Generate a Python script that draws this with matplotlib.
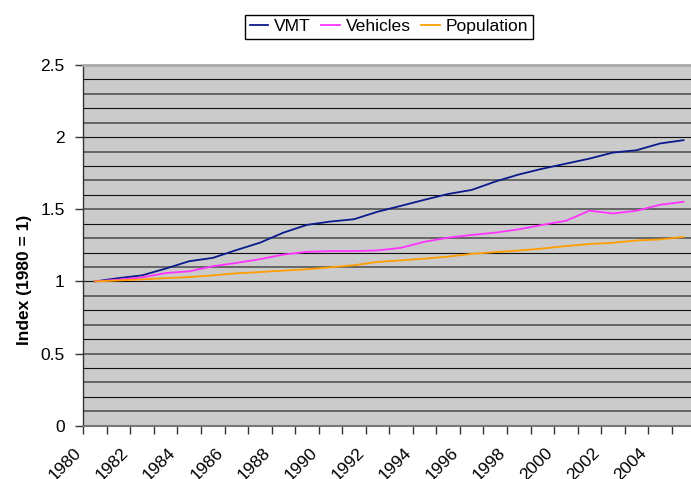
import numpy as np
import matplotlib
matplotlib.use("Agg")
import matplotlib.pyplot as plt
from matplotlib.ticker import FixedLocator

plt.rcParams["font.family"] = ["Liberation Sans", "DejaVu Sans"]

# data
years = list(range(1980, 2006))
vmt = [1.00, 1.023, 1.042, 1.089, 1.14, 1.163, 1.217, 1.268, 1.338, 1.392, 1.415, 1.431,
       1.483, 1.524, 1.566, 1.606, 1.634, 1.692, 1.741, 1.781, 1.816, 1.851, 1.893, 1.909,
       1.956, 1.979]
vehicles = [1.00, 1.012, 1.028, 1.058, 1.07, 1.105, 1.128, 1.154, 1.186, 1.205, 1.21, 1.21,
            1.215, 1.233, 1.275, 1.303, 1.322, 1.338, 1.361, 1.392, 1.42, 1.49, 1.471, 1.49,
            1.531, 1.552]
population = [1.00, 1.007, 1.014, 1.023, 1.03, 1.042, 1.056, 1.065, 1.075, 1.084, 1.098, 1.112,
              1.135, 1.146, 1.158, 1.172, 1.191, 1.203, 1.214, 1.228, 1.245, 1.259, 1.268, 1.284,
              1.291, 1.308]
label_years = list(range(1980, 2005, 2))
y_ticks = [0, 0.5, 1, 1.5, 2, 2.5]
y_tick_labels = ["0", "0.5", "1", "1.5", "2", "2.5"]

fig = plt.figure(figsize=(6.91, 4.79), dpi=100)
# plot area runs past the right edge, like the cropped original
ax = fig.add_axes([83.3 / 691, 1 - 425.7 / 479, 612 / 691, 360.7 / 479])
ax.set_facecolor("#cbcbcb")

# horizontal grid every 0.1, alternating look of the original
for k in range(1, 25):
    v = k / 10
    if k % 2 == 0:
        ax.axhline(v, color="#111111", lw=0.8, zorder=1)
    else:
        ax.axhline(v, color="#666666", lw=1.4, zorder=1)

ax.plot(years, vmt, color="#0a1a8a", lw=1.3, label="VMT", zorder=3)
ax.plot(years, vehicles, color="#ff33ff", lw=1.3, label="Vehicles", zorder=3)
ax.plot(years, population, color="#ff9d00", lw=1.3, label="Population", zorder=3)

ax.set_xlim(1979.5, 2005.5)
ax.set_ylim(0, 2.5)

ax.spines["top"].set_color("#aaaaaa")
ax.spines["top"].set_linewidth(2)
ax.spines["right"].set_visible(False)
ax.spines["left"].set_color("#333333")
ax.spines["left"].set_linewidth(1)
ax.spines["bottom"].set_color("#777777")
ax.spines["bottom"].set_linewidth(1.5)

ax.set_yticks(y_ticks)
ax.set_yticklabels(y_tick_labels, fontsize=12.5)
ax.tick_params(axis="y", length=5.5, width=1, color="#333333", pad=8)

# tick marks on category boundaries, labels on every other year
ax.xaxis.set_minor_locator(FixedLocator([y - 0.5 for y in range(1980, 2007)]))
ax.tick_params(axis="x", which="minor", length=6, width=1, color="#333333")
ax.set_xticks([y - 0.45 for y in label_years])
ax.set_xticklabels([str(y) for y in label_years], fontsize=12.5, rotation=45,
                   ha="right", va="top")
ax.tick_params(axis="x", which="major", length=0, pad=14)

fig.text(24 / 691, 1 - 280 / 479, "Index (1980 = 1)", rotation=90, fontsize=12.5,
         fontweight="bold", ha="center", va="center")

fig.legend(loc="center", bbox_to_anchor=(389 / 691, 1 - 26.8 / 479), ncol=3,
           fontsize=12.6, frameon=True, fancybox=False, edgecolor="black",
           framealpha=1, handlelength=1.05, handletextpad=0.35, columnspacing=0.6,
           borderpad=0.25, borderaxespad=0)
fig.legends[0].get_frame().set_linewidth(1)

fig.savefig("out.png", dpi=100)
